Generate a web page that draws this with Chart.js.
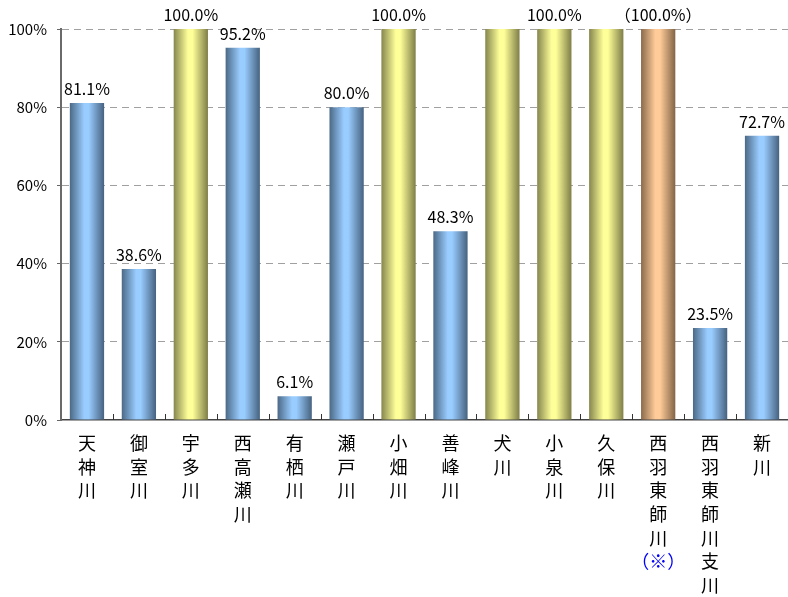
<!DOCTYPE html>
<html>
<head>
<meta charset="utf-8">
<script src="https://cdn.jsdelivr.net/npm/chart.js@4/dist/chart.umd.min.js"></script>
<style>
  html, body { margin: 0; padding: 0; background: #fff; }
  #wrap { width: 788px; height: 597px; }
</style>
</head>
<body>
<div id="wrap"><canvas id="myChart"></canvas></div>
<script>
// data
const categories = ['天神川', '御室川', '宇多川', '西高瀬川', '有栖川', '瀬戸川', '小畑川', '善峰川',
                    '犬川', '小泉川', '久保川', '西羽東師川（※）', '西羽東師川支川', '新川'];
const values = [81.1, 38.6, 100, 95.2, 6.1, 80.0, 100, 48.3, 100, 100, 100, 100, 23.5, 72.7];
const valueLabels = ['81.1%', '38.6%', '100.0%', '95.2%', '6.1%', '80.0%', '100.0%', '48.3%',
                     '', '100.0%', '', '（100.0%）', '23.5%', '72.7%'];
const barKinds = ['b', 'b', 'y', 'b', 'b', 'b', 'y', 'b', 'y', 'y', 'y', 'o', 'b', 'b'];
const yTicks = [0, 20, 40, 60, 80, 100];

const shades = {
    b: ['#4b6986', '#99ccff', '#46627f'],
    y: ['#86864e', '#ffff99', '#7e7e48'],
    o: ['#8a6a4c', '#ffcc99', '#826446']
};

const font = '"Noto Sans CJK JP", "Noto Sans", sans-serif';
const BAR_PCT = 0.66;

function barFill(ctx) {
    const chart = ctx.chart;
    const kind = barKinds[ctx.dataIndex];
    const c = shades[kind];
    if (!chart.chartArea) return c[1];
    const xs = chart.scales.x;
    const cx = xs.getPixelForValue(ctx.dataIndex);
    const w = xs.width / categories.length * BAR_PCT;
    const g = chart.ctx.createLinearGradient(cx - w / 2, 0, cx + w / 2, 0);
    g.addColorStop(0, c[0]);
    g.addColorStop(0.42, c[1]);
    g.addColorStop(0.55, c[1]);
    g.addColorStop(1, c[2]);
    return g;
}

// value labels over the bars, vertical category names and small x ticks
const extras = {
    id: 'extras',
    afterDatasetsDraw(chart) {
        const c = chart.ctx;
        const meta = chart.getDatasetMeta(0);
        c.save();
        c.font = '16px ' + font;
        c.fillStyle = '#000';
        c.textAlign = 'center';
        c.textBaseline = 'bottom';
        meta.data.forEach((bar, i) => {
            if (valueLabels[i]) c.fillText(valueLabels[i], bar.x, bar.y - 6);
        });
        c.restore();
    },
    afterDraw(chart) {
        const c = chart.ctx;
        const xs = chart.scales.x;
        const bottom = chart.chartArea.bottom;
        const step = xs.width / categories.length;
        c.save();
        // little tick marks between categories
        c.strokeStyle = '#333';
        c.lineWidth = 1;
        for (let i = 1; i < categories.length; i++) {
            const x = Math.round(xs.left + step * i) + 0.5;
            c.beginPath();
            c.moveTo(x, bottom);
            c.lineTo(x, bottom - 6);
            c.stroke();
        }
        // vertical labels
        c.font = '18px ' + font;
        c.textAlign = 'center';
        c.textBaseline = 'middle';
        categories.forEach((name, i) => {
            const x = xs.getPixelForValue(i);
            const parts = name.match(/（.*?）|./g);
            parts.forEach((p, k) => {
                c.fillStyle = p.startsWith('（') ? '#0000ff' : '#000';
                c.fillText(p, x, bottom + 23 + k * 23.7);
            });
        });
        c.restore();
    }
};

const ctx = document.getElementById('myChart');
const myChart = new Chart(ctx, {
    type: 'bar',
    data: {
        labels: categories,
        datasets: [{
            data: values,
            backgroundColor: barFill,
            borderWidth: 0,
            barPercentage: BAR_PCT,
            categoryPercentage: 1
        }]
    },
    options: {
        responsive: true,
        maintainAspectRatio: false,
        animation: false,
        events: [],
        layout: { padding: { top: 29, left: 0, right: 0, bottom: 0 } },
        plugins: {
            legend: { display: false },
            tooltip: { enabled: false }
        },
        scales: {
            x: {
                ticks: { display: false },
                grid: { display: false },
                border: { display: true, color: '#444', width: 1.5 },
                afterFit(scale) { scale.height = 177; }
            },
            y: {
                min: 0,
                max: 100,
                afterBuildTicks(scale) {
                    scale.ticks = yTicks.map(v => ({ value: v }));
                },
                ticks: {
                    padding: 10,
                    color: '#000',
                    font: { family: font, size: 15 },
                    callback: v => v + '%'
                },
                grid: {
                    color: c => c.tick && c.tick.value === 0 ? 'rgba(0,0,0,0)' : '#a0a0a0',
                    lineWidth: 1,
                    tickLength: 4,
                    tickColor: '#666'
                },
                border: { display: true, color: '#6a6a6a', width: 2, dash: [7, 5] },
                afterFit(scale) { scale.width = 61; }
            }
        }
    },
    plugins: [extras]
});
</script>
</body>
</html>
